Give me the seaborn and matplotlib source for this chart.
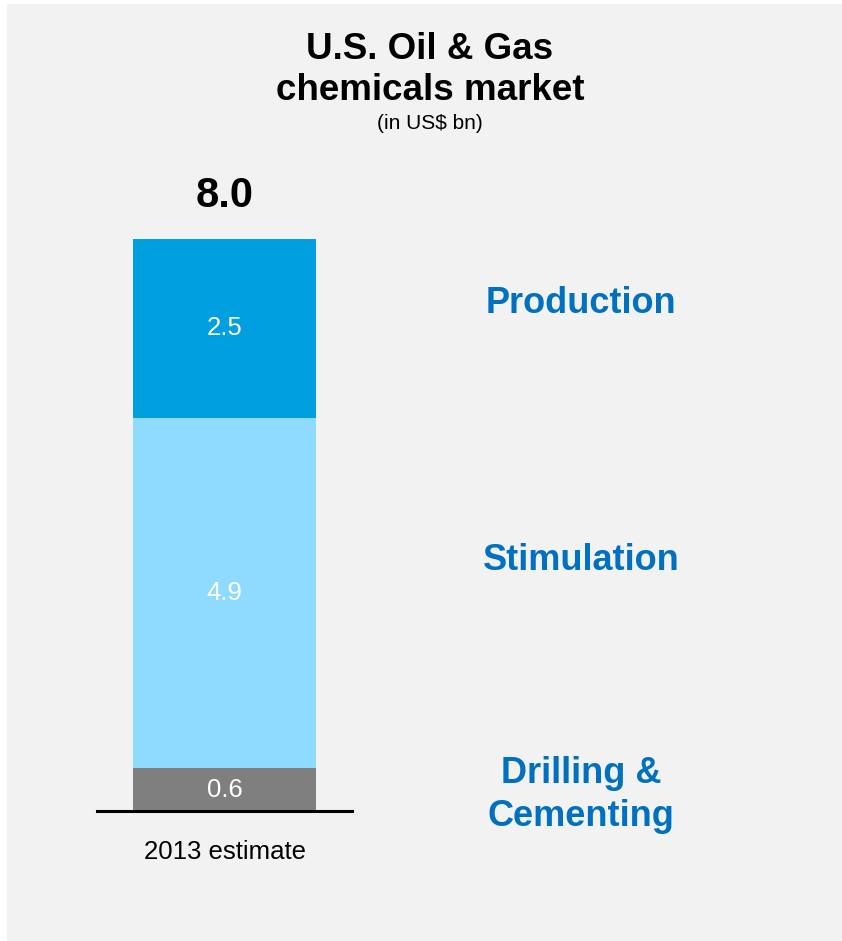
import numpy as np
import pandas as pd
import matplotlib.pyplot as plt
import seaborn as sns
from matplotlib.patches import Rectangle

# Datos
segments = ["Drilling &\nCementing", "Stimulation", "Production"]
values = [0.6, 4.9, 2.5]
category = "2013 estimate"
seg_colors = ["#7F7F7F", "#8FDBFF", "#009FDF"]
label_blue = "#0070C0"

sns.set_style("white")
plt.rcParams["font.family"] = ["Liberation Sans", "DejaVu Sans"]
plt.rcParams["text.color"] = "black"
plt.rcParams["xtick.color"] = "black"

fig = plt.figure(figsize=(8.42, 9.41), dpi=100)
fig.patch.set_facecolor("white")
fig.patches.append(Rectangle((7 / 842, 0), 1 - 7 / 842, 1 - 4 / 941,
                             transform=fig.transFigure, facecolor="#F2F2F2",
                             edgecolor="none", zorder=-10))

ax = fig.add_axes([97 / 842, 130 / 941, 255 / 842, 572 / 941])
ax.set_facecolor("none")

# barras apiladas: se dibujan los acumulados de mayor a menor
cum = np.cumsum(values)
for i in range(len(values) - 1, -1, -1):
    df = pd.DataFrame({"cat": [category], "val": [cum[i]]})
    sns.barplot(data=df, x="cat", y="val", color=seg_colors[i],
                saturation=1, width=183 / 255, ax=ax, linewidth=0)

# valores dentro de cada segmento
for i, v in enumerate(values):
    ax.text(0, cum[i] - v / 2, f"{v:.1f}", ha="center", va="center",
            color="white", fontsize=18.5)

# total arriba
ax.annotate(f"{cum[-1]:.1f}", xy=(0, cum[-1]), xytext=(0, 31),
            textcoords="offset points", ha="center", va="center",
            fontsize=30, fontweight="bold", color="black")

ax.set_xlim(-0.5, 0.5)
ax.set_ylim(0, cum[-1])
ax.set_xlabel("")
ax.set_ylabel("")
ax.set_yticks([])
for s in ["top", "left", "right"]:
    ax.spines[s].set_visible(False)
ax.spines["bottom"].set_color("black")
ax.spines["bottom"].set_linewidth(2.2)
ax.tick_params(axis="x", length=0, pad=21, labelsize=18.5, colors="black")

# etiquetas de segmentos a la derecha
seg_label_y = [795, 561, 304]
for name, yy in zip(segments, seg_label_y):
    fig.text(581 / 842, 1 - yy / 941, name, ha="center", va="center",
             color=label_blue, fontsize=26, fontweight="bold", linespacing=1.3)

# titulo
fig.text(430 / 842, 1 - 70 / 941, "U.S. Oil & Gas\nchemicals market",
         ha="center", va="center", fontsize=26.5, fontweight="bold",
         linespacing=1.25, color="black")
fig.text(430 / 842, 1 - 124 / 941, "(in US$ bn)", ha="center", va="center",
         fontsize=15, color="black")

fig.savefig("out.png", dpi=100, facecolor=fig.get_facecolor())
